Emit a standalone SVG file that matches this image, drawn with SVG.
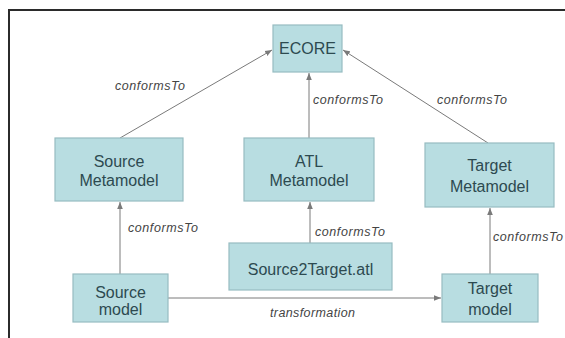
<svg xmlns="http://www.w3.org/2000/svg" width="565" height="338" viewBox="0 0 565 338">
  <style>
    .box { fill: #b8dde1; stroke: #97bcc1; stroke-width: 1.2; }
    .name { font-family: "Liberation Sans", Arial, sans-serif; font-size: 16px; fill: #2d4a50; text-anchor: middle; }
    .lbl { font-family: "Liberation Sans", Arial, sans-serif; font-size: 12.5px; font-style: italic; fill: #444; }
    .edge { stroke: #7a7a7a; stroke-width: 1; fill: none; marker-end: url(#arrow); }
  </style>
  <defs>
    <marker id="arrow" viewBox="0 0 10 10" refX="10" refY="5" markerWidth="7" markerHeight="7" markerUnits="userSpaceOnUse" orient="auto">
      <path d="M0,1 L10,5 L0,9 z" fill="#7a7a7a"/>
    </marker>
  </defs>

  <rect width="565" height="338" fill="#ffffff"/>

  <!-- frame -->
  <path d="M9,338 V10 H565" fill="none" stroke="#2b2b2b" stroke-width="2"/>

  <!-- connectors -->
  <g id="connectors">
    <line class="edge" x1="120" y1="138" x2="272" y2="50"/>
    <line class="edge" x1="309" y1="138" x2="309" y2="73"/>
    <line class="edge" x1="488" y1="143" x2="343" y2="50"/>
    <line class="edge" x1="120" y1="274" x2="120" y2="202"/>
    <line class="edge" x1="310" y1="243" x2="310" y2="202"/>
    <line class="edge" x1="490" y1="274" x2="490" y2="208"/>
    <line class="edge" x1="168" y1="298" x2="441" y2="298"/>
    <text class="lbl" x="115" y="90" textLength="70">conformsTo</text>
    <text class="lbl" x="313" y="104" textLength="70">conformsTo</text>
    <text class="lbl" x="437" y="104" textLength="70">conformsTo</text>
    <text class="lbl" x="128" y="232" textLength="70">conformsTo</text>
    <text class="lbl" x="315" y="236" textLength="70">conformsTo</text>
    <text class="lbl" x="493" y="241" textLength="70">conformsTo</text>
    <text class="lbl" x="270" y="317" textLength="85">transformation</text>
  </g>

  <g id="ecore">
    <rect class="box" x="273" y="25" width="69" height="47"/>
    <text class="name" x="307.5" y="54">ECORE</text>
  </g>

  <g id="source-metamodel">
    <rect class="box" x="55" y="138" width="128" height="63"/>
    <text class="name" x="119" y="167">Source</text>
    <text class="name" x="119" y="186">Metamodel</text>
  </g>

  <g id="atl-metamodel">
    <rect class="box" x="244" y="138" width="130" height="63"/>
    <text class="name" x="309" y="167">ATL</text>
    <text class="name" x="309" y="186">Metamodel</text>
  </g>

  <g id="target-metamodel">
    <rect class="box" x="425" y="143" width="129" height="64"/>
    <text class="name" x="489.5" y="171">Target</text>
    <text class="name" x="489.5" y="192">Metamodel</text>
  </g>

  <g id="source2target">
    <rect class="box" x="229" y="243" width="163" height="47"/>
    <text class="name" x="310.5" y="275">Source2Target.atl</text>
  </g>

  <g id="source-model">
    <rect class="box" x="73" y="274" width="95" height="48"/>
    <text class="name" x="120.5" y="298">Source</text>
    <text class="name" x="120.5" y="315">model</text>
  </g>

  <g id="target-model">
    <rect class="box" x="442" y="274" width="96" height="48"/>
    <text class="name" x="490" y="294">Target</text>
    <text class="name" x="490" y="315">model</text>
  </g>
</svg>
